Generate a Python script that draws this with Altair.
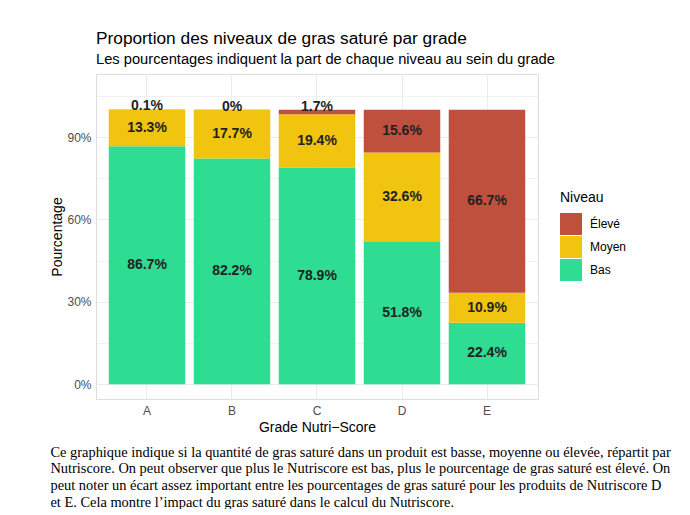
import altair as alt
import pandas as pd

grades = ["A", "B", "C", "D", "E"]
niveaux = ["Élevé", "Moyen", "Bas"]
bas = [86.7, 82.2, 78.9, 51.8, 22.4]
moyen = [13.3, 17.7, 19.4, 32.6, 10.9]
eleve = [0.1, 0.04, 1.7, 15.6, 66.7]
colors = ["#C0503E", "#F1C40F", "#2EDC92"]

title_text = "Proportion des niveaux de gras saturé par grade"
subtitle_text = "Les pourcentages indiquent la part de chaque niveau au sein du grade"
x_title = "Grade Nutri−Score"
y_title = "Pourcentage"
caption_lines = [
    "Ce graphique indique si la quantité de gras saturé dans un produit est basse, moyenne ou élevée, répartit par",
    "Nutriscore. On peut observer que plus le Nutriscore est bas, plus le pourcentage de gras saturé est élevé. On",
    "peut noter un écart assez important entre les pourcentages de gras saturé pour les produits de Nutriscore D",
    "et E. Cela montre l’impact du gras saturé dans le calcul du Nutriscore.",
]

rows = []
for i, g in enumerate(grades):
    for rank, (niv, vals) in enumerate([("Bas", bas), ("Moyen", moyen), ("Élevé", eleve)]):
        rows.append({"grade": g, "niveau": niv, "pct": vals[i], "rank": rank})
df = pd.DataFrame(rows)

FONT = "Liberation Sans"

base = (
    alt.Chart(df)
    .transform_stack(
        stack="pct",
        groupby=["grade"],
        sort=[alt.SortField("rank", order="ascending")],
        as_=["y0", "y1"],
    )
    .transform_calculate(
        mid="(datum.y0 + datum.y1) / 2",
        label="format(datum.pct, '.1~f') + '%'",
    )
)

xscale = alt.Scale(domain=grades, paddingInner=0.1, paddingOuter=0.15)

x_enc = alt.X(
    "grade:N",
    scale=xscale,
    axis=alt.Axis(
        title=x_title,
        labelAngle=0,
        labelFont=FONT,
        labelFontSize=12,
        labelColor="#4D4D4D",
        labelPadding=6,
        titleFont=FONT,
        titleFontSize=14,
        titleFontWeight="normal",
        titleColor="black",
        titlePadding=4,
        ticks=False,
        domain=False,
        grid=True,
        gridColor="#EBEBEB",
        gridWidth=1,
        bandPosition=0.5,
        tickExtra=False,
    ),
)

yscale = alt.Scale(domain=[-5.4, 113], nice=False, zero=False)

y_axis = alt.Axis(
    title=y_title,
    values=[0, 15, 30, 45, 60, 75, 90, 105],
    labelExpr="datum.value % 30 == 0 ? datum.value + '%' : ''",
    labelFont=FONT,
    labelFontSize=12,
    labelColor="#4D4D4D",
    labelPadding=5,
    titleFont=FONT,
    titleFontSize=14,
    titleFontWeight="normal",
    titleColor="black",
    titlePadding=2,
    ticks=False,
    domain=False,
    grid=True,
    gridColor="#EBEBEB",
    gridWidth=alt.condition("datum.value % 30 == 0", alt.value(1.1), alt.value(0.7)),
)

bars = base.mark_bar().encode(
    x=x_enc,
    y=alt.Y("y0:Q", scale=yscale, axis=y_axis),
    y2="y1:Q",
    color=alt.Color(
        "niveau:N",
        scale=alt.Scale(domain=niveaux, range=colors),
        legend=alt.Legend(
            title="Niveau",
            orient="none",
            legendX=464,
            legendY=117,
            titleFont=FONT,
            titleFontSize=14,
            titleFontWeight="normal",
            titleColor="black",
            titlePadding=8,
            labelFont=FONT,
            labelFontSize=12,
            labelColor="black",
            labelOffset=8,
            symbolType="square",
            symbolSize=484,
            symbolStrokeWidth=0,
            symbolOpacity=1,
            rowPadding=1,
        ),
    ),
)

labels_big = base.transform_filter("datum.pct >= 5").mark_text(
    font=FONT, fontSize=14, fontWeight="bold", color="#222222", baseline="middle"
).encode(
    x=alt.X("grade:N", scale=xscale),
    y=alt.Y("mid:Q", scale=yscale),
    text="label:N",
)

labels_small = base.transform_filter("datum.pct < 5").mark_text(
    font=FONT, fontSize=14, fontWeight="bold", color="#222222", baseline="alphabetic", dy=1
).encode(
    x=alt.X("grade:N", scale=xscale),
    y=alt.Y("y1:Q", scale=yscale),
    text="label:N",
)

main = alt.layer(bars, labels_big, labels_small).properties(
    width=442,
    height=325,
    title=alt.TitleParams(
        text=title_text,
        subtitle=subtitle_text,
        anchor="start",
        frame="group",
        font=FONT,
        fontSize=17.3,
        fontWeight="normal",
        color="black",
        subtitleFont=FONT,
        subtitleFontSize=14.7,
        subtitleColor="black",
        subtitlePadding=5,
        offset=7,
    ),
)

chart = (
    alt.vconcat(main)
    .resolve_legend(color="independent")
    .properties(
        title=alt.TitleParams(
            text=caption_lines,
            orient="bottom",
            anchor="start",
            font="Liberation Serif",
            fontSize=14.4,
            fontWeight="normal",
            color="black",
            lineHeight=16.7,
            offset=11,
        ),
        padding={"left": 42, "top": 21, "right": 5, "bottom": 0},
    )
    .configure_view(stroke=None)
    .configure(background="white")
)

chart.save("out.html", embed_options={"renderer": "svg", "actions": False})
